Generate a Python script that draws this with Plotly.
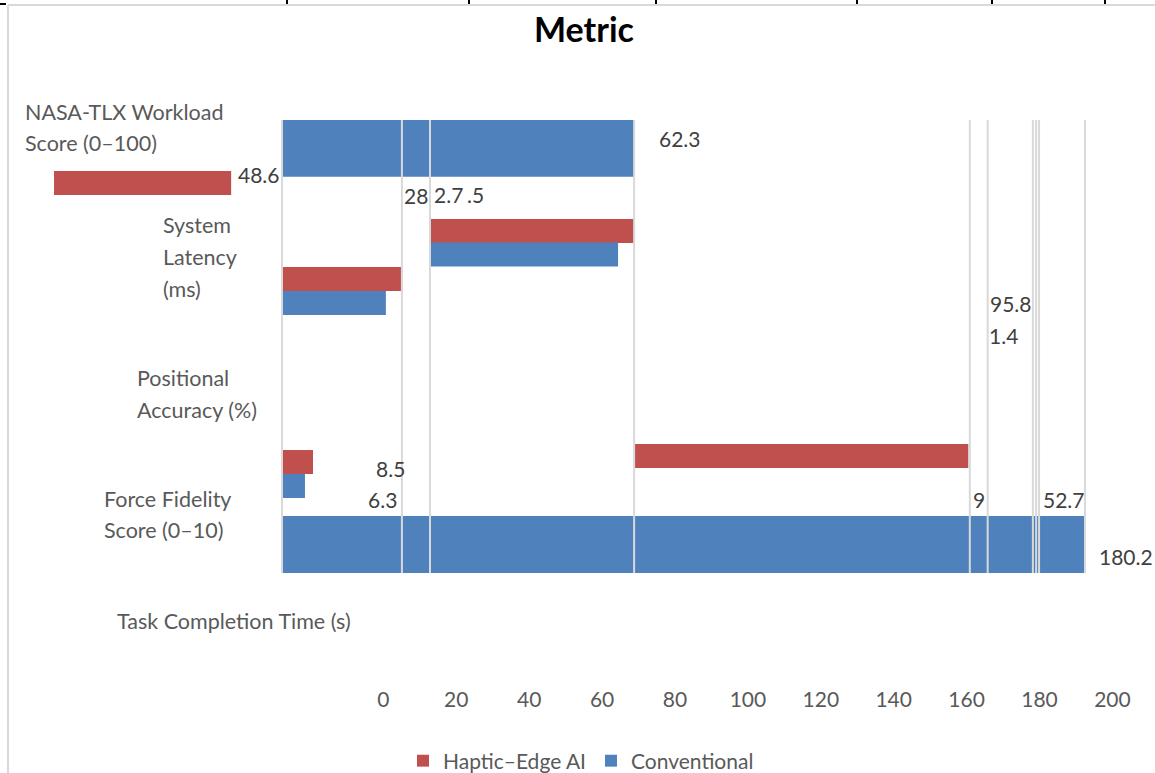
import plotly.graph_objects as go

# ---- data -------------------------------------------------------------
metrics = [
    ["NASA-TLX Workload", "Score (0–100)"],
    ["System", "Latency", "(ms)"],
    ["Positional", "Accuracy (%)"],
    ["Force Fidelity", "Score (0–10)"],
    ["Task Completion Time (s)"],
]
series_names = ["Haptic–Edge AI", "Conventional"]

haptic_values = [48.6, 56.0, 32.7, 91.6, 8.5]
haptic_bases = [-62.55, 40.6, 0.0, 96.7, 0.0]

conventional_values = [96.6, 51.6, 28.5, 6.3, 220.2]
conventional_bases = [0.0, 40.6, 0.0, 0.0, 0.0]

value_labels = ["62.3", "48.6", "28", "2.7", ".5", "95.8", "1.4", "8.5", "6.3", "9", "52.7", "180.2"]

tick_values = [0, 20, 40, 60, 80, 100, 120, 140, 160, 180, 200]

# ---- layout helpers (row units: one thin bar = 1 row) ----------------
haptic_rows = [7.625, 9.625, 11.625, 19.0, 19.25]
haptic_widths = [1, 1, 1, 1, 1]
conventional_rows = [6.18, 10.6, 12.625, 20.25, 22.69]
conventional_widths = [2.36, 1, 1, 1, 2.375]

label_x = [102.9, -12.6, 33.0, 41.1, 50.3, 193.8, 193.4, 25.3, 23.1, 189.0, 208.2, 223.6]
label_y = [5.77, 7.28, 8.15, 8.1, 8.1, 12.63, 13.96, 19.5, 20.83, 20.8, 20.8, 23.2]

rule_x = [0, 32.9, 40.6, 96.6, 188.7, 193.6, 206.0, 206.9, 207.7, 220.3]
rule_top, rule_bottom = 5.0, 23.875

metric_x = [23, 161, 135, 102, 115]
metric_line_y = [[112, 143], [225, 257, 289], [378, 410], [499, 530], [621]]

tick_offset = 27.82          # where the "0" tick sits on the value scale
W, H = 1155, 773
PX_PER_UNIT = 3.645
ZERO_PX = 282
PLOT_BOTTOM = 680
ROW_PX = 24

RED = "#C0504D"
BLUE = "#4F81BD"
FONT = "Lato"

fig = go.Figure()
fig.add_trace(go.Bar(
    name=series_names[0], orientation="h",
    x=haptic_values, base=haptic_bases, y=haptic_rows, width=haptic_widths,
    marker=dict(color=RED, line=dict(width=0)),
))
fig.add_trace(go.Bar(
    name=series_names[1], orientation="h",
    x=conventional_values, base=conventional_bases, y=conventional_rows,
    width=conventional_widths,
    marker=dict(color=BLUE, line=dict(width=0)),
))

# light vertical rules drawn over the bars
for rx in rule_x:
    fig.add_shape(type="line", xref="x", yref="y", x0=rx, x1=rx,
                  y0=rule_top, y1=rule_bottom, layer="above",
                  line=dict(color="#D9D9D9", width=2))

# chart frame
fig.add_shape(type="line", xref="paper", yref="paper", x0=8 / W, x1=1,
              y0=1 - 5 / H, y1=1 - 5 / H, line=dict(color="#D9D9D9", width=2))
fig.add_shape(type="line", xref="paper", yref="paper", x0=8 / W, x1=8 / W,
              y0=0, y1=1 - 5 / H, line=dict(color="#D9D9D9", width=2))
fig.add_shape(type="line", xref="paper", yref="paper", x0=0, x1=6 / W,
              y0=1 - 4 / H, y1=1 - 4 / H, line=dict(color="#000000", width=2))
for cx in [287, 469, 656, 857, 992, 1105]:
    fig.add_shape(type="line", xref="paper", yref="paper", x0=cx / W, x1=cx / W,
                  y0=1 - 4 / H, y1=1, line=dict(color="#000000", width=2))

# value labels
for txt, lx, ly in zip(value_labels, label_x, label_y):
    fig.add_annotation(x=lx, y=ly, xref="x", yref="y", text=txt, showarrow=False,
                       xanchor="left", yanchor="middle",
                       font=dict(family=FONT, size=21, color="#404040"))

# metric names on the left
for lines, mx, ys in zip(metrics, metric_x, metric_line_y):
    for line, py in zip(lines, ys):
        fig.add_annotation(x=mx / W, y=1 - py / H, xref="paper", yref="paper",
                           text=line, showarrow=False, xanchor="left",
                           yanchor="middle",
                           font=dict(family=FONT, size=21.5, color="#595959"))

x_lo = -ZERO_PX / PX_PER_UNIT
x_hi = (W - ZERO_PX) / PX_PER_UNIT

fig.update_layout(
    width=W, height=H,
    margin=dict(l=0, r=0, t=0, b=0, autoexpand=False),
    paper_bgcolor="white", plot_bgcolor="white",
    barmode="overlay",
    title=dict(text="<b>Metric</b>", x=584 / W, xanchor="center",
               y=1 - 30 / H, yanchor="middle",
               font=dict(family=FONT, size=34, color="#000000")),
    xaxis=dict(range=[x_lo, x_hi], domain=[0, 1], automargin=False,
               tickvals=[t + tick_offset for t in tick_values],
               ticktext=[str(t) for t in tick_values],
               showgrid=False, zeroline=False, showline=False, ticks="",
               tickfont=dict(family=FONT, size=21, color="#595959"),
               ticklabelstandoff=5),
    yaxis=dict(range=[PLOT_BOTTOM / ROW_PX, 0], domain=[1 - PLOT_BOTTOM / H, 1],
               automargin=False,
               showgrid=False, zeroline=False, showline=False,
               showticklabels=False, ticks=""),
    legend=dict(orientation="h", x=403 / W, xanchor="left", y=1 - 761 / H,
                yanchor="middle", font=dict(family=FONT, size=21, color="#595959"),
                bgcolor="rgba(0,0,0,0)", traceorder="normal"),
    showlegend=True,
)

fig.write_html("out.html")
